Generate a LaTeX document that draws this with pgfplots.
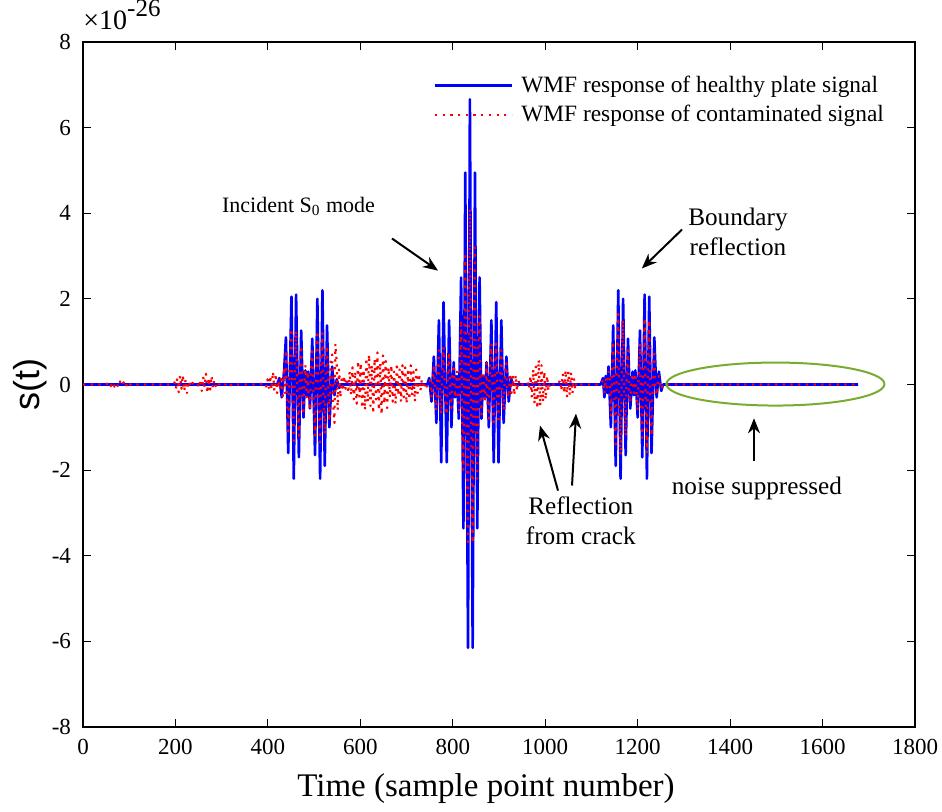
\documentclass[border=0pt]{standalone}
\usepackage{fontspec}
\setmainfont{Liberation Serif}
\newfontfamily\sansf{Liberation Sans}
\usepackage{pgfplots}
\pgfplotsset{compat=1.18}
\usetikzlibrary{arrows.meta}
\definecolor{mgreen}{RGB}{119,172,48}
\begin{document}
\begin{tikzpicture}
\useasboundingbox (-41.5pt,-42.5pt) rectangle (429.5pt,363.5pt);
\begin{axis}[
  name=ax, at={(0,0)}, anchor=south west,
  scale only axis, width=416pt, height=342.5pt,
  xmin=0, xmax=1800, ymin=-8, ymax=8,
  xtick={0,200,...,1800}, ytick={-8,-6,...,8},
  tick align=inside, major tick length=4pt,
  every tick/.style={black, line width=0.5pt},
  axis line style={line width=0.6pt},
  /pgf/number format/assume math mode=true,
  /pgf/number format/1000 sep={},
  ticklabel style={font=\fontsize{11.5}{13}\selectfont},
  xticklabel style={yshift=-2.5pt},
  yticklabel style={xshift=-2.5pt},
  every axis x label/.style={at={(rel axis cs:0.5,0)}, anchor=center, xshift=-6.5pt, yshift=-31pt},
  every axis y label/.style={at={(rel axis cs:0,0.5)}, xshift=-26.5pt, anchor=center, rotate=90},
  xlabel={\fontsize{16.5}{18}\selectfont Time (sample point number)},
  ylabel={\sansf\fontsize{18}{20}\selectfont s(t)},
  legend image code/.code={\draw[#1] (0pt,0pt) -- (38.5pt,0pt);},
  legend cell align=left,
  legend style={draw=none, fill=none, at={(0.421,0.957)}, anchor=north west,
    font=\fontsize{11.7}{13}\selectfont, row sep=1pt, inner sep=0pt,
    nodes={inner sep=2pt},
    /tikz/every odd column/.append style={column sep=2pt}},
  clip=false,
]
\addplot[blue, line width=1.3pt, line join=round] coordinates {
(0,0) (420,0) (425,0.15) (430,-0.3) (435,0.3) (439,1.1) (444,-1.6) (451,2.05) (456,-2.2) (461,2.1) (467,-1.7) (472,1.26) (477,-0.77) (481,0.33) (484,-0.25) (487,0.3) (491,-0.56) (496,1.07) (502,-1.65) (507,2.0) (513,-2.2) (518,2.2) (523,-1.9) (528,1.38) (533,-1.0) (539,0.42) (544,-0.25) (549,0.12) (554,-0.08) (558,0)
(745,0) (749,0.15) (754,-0.4) (759,0.65) (764.5,-0.9) (770,1.5) (775,-1.82) (780,1.92) (787,-1.82) (792,1.5) (797,-1.0) (802,0.52) (805,-0.3) (809,0.2) (813,-0.8) (818,2.5) (823,-3.36) (827,4.95) (833,-6.15) (837,6.66) (843,-6.15) (848,4.95) (853,-3.36) (858,2.5) (862,-0.8) (866,0.2) (870,-0.3) (873,0.52) (878,-1.0) (883.5,1.5) (888.6,-1.82) (894,1.92) (899,-1.82) (905,1.5) (910,-0.9) (916,0.65) (921,-0.4) (926,0.15) (930,0)
(1120,0) (1125,0.15) (1128,-0.3) (1131,0.2) (1134,-0.2) (1137,0.42) (1142,-1.0) (1147,1.38) (1152.5,-1.9) (1158,2.2) (1163,-2.2) (1168.5,2.0) (1174,-1.65) (1179,1.07) (1184,-0.56) (1189,0.3) (1192,-0.25) (1195,0.33) (1200,-0.77) (1205,1.26) (1210,-1.7) (1215,2.1) (1220,-2.2) (1225,2.05) (1230,-1.6) (1236,1.1) (1241,-0.3) (1246,0.3) (1251,-0.15) (1255,0) (1677,0)
};
\addlegendentry{WMF response of healthy plate signal}
\addplot[red, line width=1.1pt, dash pattern=on 1.1pt off 2.75pt, line join=round] coordinates {
(0,0) (50,0) (56,0.05) (60,-0.04) (64,0.06) (68,-0.05) (72,0.03) (76,-0.06) (80,0.07) (84,-0.03) (88,0.05) (92,-0.06) (96,0.04) (100,-0.03) (104,0.02) (110,0) (195,0)
(198,0.05) (201,-0.1) (204,0.15) (207,-0.18) (210,0.2) (213,-0.1) (216,0.22) (219,-0.15) (222,0.12) (225,-0.2) (228,0.08) (231,0.02) (234,-0.05) (237,0.04) (240,0) (248,0.03) (251,-0.08) (254,0.12) (257,-0.15) (260,0.18) (263,-0.06) (266,0.25) (269,-0.2) (272,0.15) (275,-0.12) (278,0.2) (281,-0.08) (284,0.1) (287,-0.04) (290,0.05) (294,0) (300,0.03) (306,-0.02) (312,0.04) (318,-0.03) (324,0.02) (330,0)
(380,0) (392,0.03) (396,-0.05) (399,0.12) (402,-0.08) (405,0.2) (408,-0.12) (411,0.3) (414,-0.15) (417,0.25) (420,-0.2) (423,0.1) (426,-0.1)
(429,0.2) (432,-0.35) (435,0.4) (437,-0.2) (439,0.8) (442,-0.5) (444,-1.1) (447,0.4) (451,1.3) (453,-0.3) (456,-1.4) (458,0.2) (461,1.25) (464,-0.4) (467,-1.2) (469,0.3) (472,0.9) (474,-0.2) (477,-0.7) (479,0.1) (481,0.45) (484,-0.3) (486,0.3) (488,-0.2) (491,-0.6) (493,0.3) (496,0.85) (499,-0.4) (502,-1.2) (504,0.3) (507,1.25) (510,-0.5) (513,-1.35) (515,0.4) (518,1.2) (520,-0.3) (523,-1.15) (525,0.3) (528,0.9) (531,-0.2) (533,-0.85) (536,0.6) (539,0.7) (541,-0.4) (544,-0.9) (546,0.95) (549,0.5) (551,-0.6) (554,0.35) (557,-0.3) (560,0.2)
(562,-0.15) (565,0.2) (568,-0.1) (571,0.15) (574,-0.2) (577,0.3) (580,-0.25) (583,0.4) (586,-0.35) (589,0.3) (592,-0.45) (595,0.55) (598,-0.3) (601,0.5) (604,-0.55) (607,0.35) (610,-0.6) (613,0.62) (616,-0.4) (619,0.7) (622,-0.5) (625,0.45) (628,-0.68) (631,0.6) (634,-0.35) (637,0.75) (640,-0.6) (643,0.5) (646,-0.7) (649,0.68) (652,-0.45) (655,0.55) (658,-0.55) (661,0.4) (664,-0.3) (667,0.45) (670,-0.4) (673,0.3) (676,-0.45) (679,0.5) (682,-0.25) (685,0.35) (688,-0.4) (691,0.45) (694,-0.3) (697,0.4) (700,-0.45) (703,0.3) (706,-0.35) (709,0.45) (712,-0.25) (715,0.3) (718,-0.4) (721,0.35) (724,-0.2) (727,0.25) (730,-0.15) (733,0.12) (736,-0.1) (740,0.05) (744,-0.05) (748,0.03)
(751,0.1) (754,-0.3) (757,0.2) (759,0.45) (762,-0.3) (764.5,-0.6) (767,0.3) (770,0.8) (772,-0.3) (775,-0.68) (777,0.2) (780,0.87) (783,-0.3) (787,-0.7) (789,0.3) (792,0.75) (794,-0.2) (797,-0.55) (799,0.2) (802,0.45) (805,-0.3) (809,0.3) (811,-0.2) (813,-0.6) (816,0.6) (818,1.5) (820,-0.8) (823,-2.0) (825,1.0) (827,3.0) (830,-1.5) (833,-3.76) (835,1.5) (837,4.1) (840,-1.0) (843,-3.7) (845,1.2) (848,3.2) (850,-1.3) (853,-2.2) (855,0.8) (858,1.6) (860,-0.4) (862,-0.7) (864,0.3) (866,0.25) (868,-0.2) (870,-0.35) (873,0.5) (875,-0.3) (878,-0.8) (880,0.3) (883.5,0.95) (886,-0.3) (888.6,-0.96) (891,0.3) (894,0.96) (896,-0.3) (899,-0.9) (902,0.2) (905,0.8) (907,-0.2) (910,-0.6) (913,0.3) (916,0.5) (918,-0.2) (921,-0.3) (924,0.25) (927,-0.2) (930,0.2) (933,-0.25) (936,0.22) (939,-0.15) (942,0.1) (946,-0.05) (950,0)
(958,0) (962,0.05) (965,-0.1) (968,0.2) (971,-0.3) (974,0.35) (977,-0.45) (980,0.5) (983,-0.56) (986,0.58) (989,-0.5) (992,0.45) (995,-0.4) (998,0.3) (1001,-0.35) (1004,0.2) (1007,-0.15) (1010,0.05) (1015,0)
(1028,0) (1032,0.1) (1035,-0.15) (1038,0.25) (1041,-0.2) (1044,0.33) (1047,-0.3) (1050,0.3) (1053,-0.25) (1056,0.28) (1059,-0.2) (1062,0.15) (1065,-0.12) (1068,0.05) (1072,0)
(1120,0) (1125,0.1) (1128,-0.2) (1131,0.15) (1134,-0.15) (1137,0.3) (1140,0.1) (1142,-0.75) (1145,0.3) (1147,1.0) (1150,-0.4) (1152.5,-1.4) (1155,0.5) (1158,1.65) (1160,-0.5) (1163,-1.65) (1166,0.5) (1168.5,1.5) (1171,-0.4) (1174,-1.2) (1176,0.3) (1179,0.8) (1181,-0.2) (1184,-0.42) (1186,0.1) (1189,0.25) (1192,-0.2) (1195,0.25) (1197,-0.1) (1200,-0.6) (1202,0.2) (1205,0.95) (1207,-0.3) (1210,-1.25) (1212,0.4) (1215,1.55) (1217,-0.4) (1220,-1.6) (1222,0.5) (1225,1.5) (1227,-0.4) (1230,-1.2) (1233,0.3) (1236,0.8) (1238,-0.1) (1241,-0.25) (1244,0.1) (1246,0.2) (1249,-0.1) (1251,-0.1) (1255,0) (1677,0)
};
\addlegendentry{WMF response of contaminated signal}
% annotations
\draw[mgreen, line width=1pt] (axis cs:1498,0.01) ellipse [x radius=54.5pt, y radius=10.75pt];
\node[anchor=base west, inner sep=0pt] at ([yshift=6pt]rel axis cs:0,1) {\fontsize{14}{16}\selectfont ×10\raisebox{6.5pt}{\fontsize{12.5}{14}\selectfont -26}};
\node[anchor=west, inner sep=0pt, font=\fontsize{11}{14}\selectfont] at (axis cs:300,4.16) {Incident S\textsubscript{0} mode};
\begin{scope}[font=\fontsize{12.6}{15}\selectfont]
\node[align=center, inner sep=0pt] at (axis cs:1417,3.57) {Boundary\\reflection};
\node[align=center, inner sep=0pt] at (axis cs:1077,-3.18) {Reflection\\from crack};
\node[inner sep=0pt] at (axis cs:1458,-2.42) {noise suppressed};
\end{scope}
\begin{scope}[line width=1pt, -{Stealth[length=7.5pt,width=6pt]}]
\draw (axis cs:668.5,3.41) -- (axis cs:768,2.66);
\draw (axis cs:1296,3.62) -- (axis cs:1209,2.71);
\draw (axis cs:1027.7,-2.48) -- (axis cs:988.7,-0.96);
\draw (axis cs:1058,-2.36) -- (axis cs:1066.6,-0.68);
\draw (axis cs:1451.7,-1.78) -- (axis cs:1451.7,-0.79);
\end{scope}
\end{axis}
\end{tikzpicture}
\end{document}
